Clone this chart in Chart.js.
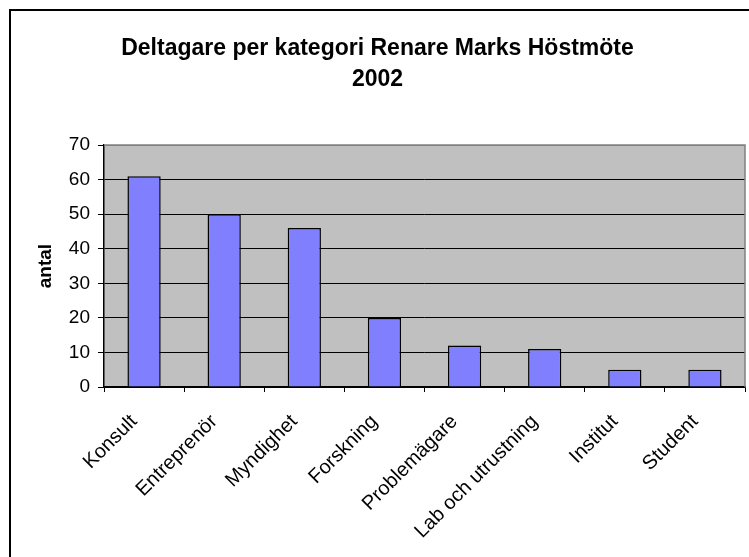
<!DOCTYPE html>
<html>
<head>
<meta charset="utf-8">
<script src="https://cdn.jsdelivr.net/npm/chart.js@4/dist/chart.umd.min.js"></script>
<style>
  html, body { margin: 0; padding: 0; background: #fff; }
  #wrap { width: 749px; height: 557px; position: relative; }
</style>
</head>
<body>
<div id="wrap"><canvas id="c" width="749" height="557"></canvas></div>
<script>
const titleLines = ['Deltagare per kategori Renare Marks Höstmöte', '2002'];
const yAxisTitle = 'antal';
const categories = ['Konsult', 'Entreprenör', 'Myndighet', 'Forskning', 'Problemägare', 'Lab och utrustning', 'Institut', 'Student'];
const values = [61, 50, 46, 20, 12, 11, 5, 5];
const yMin = 0;
const yMax = 70;
const yStep = 10;

const FONT = "'Liberation Sans', Arial, sans-serif";

const decor = {
  id: 'decor',
  beforeDraw(chart) {
    const { ctx, chartArea: a } = chart;
    ctx.save();
    ctx.fillStyle = '#ffffff';
    ctx.fillRect(0, 0, chart.width, chart.height);
    ctx.fillStyle = '#C0C0C0';
    ctx.fillRect(a.left, a.top, a.right - a.left, a.bottom - a.top);
    ctx.strokeStyle = '#000';
    ctx.lineWidth = 2;
    ctx.beginPath();
    ctx.moveTo(10, chart.height + 2);
    ctx.lineTo(10, 10);
    ctx.lineTo(chart.width + 2, 10);
    ctx.stroke();
    ctx.restore();
  },
  afterDraw(chart) {
    const { ctx, chartArea: a } = chart;
    ctx.save();
    ctx.strokeStyle = '#808080';
    ctx.lineWidth = 1.5;
    ctx.beginPath();
    ctx.moveTo(a.left, a.top);
    ctx.lineTo(a.right, a.top);
    ctx.lineTo(a.right, a.bottom);
    ctx.stroke();
    ctx.restore();
  }
};

new Chart(document.getElementById('c'), {
  type: 'bar',
  data: {
    labels: categories,
    datasets: [{
      data: values,
      backgroundColor: '#8080FF',
      borderColor: '#000000',
      borderWidth: 1.5,
      categoryPercentage: 1,
      barPercentage: 0.415
    }]
  },
  plugins: [decor],
  options: {
    responsive: false,
    animation: false,
    devicePixelRatio: 1,
    layout: { padding: { left: 10, right: 4, top: 0, bottom: 0 } },
    plugins: {
      legend: { display: false },
      tooltip: { enabled: false },
      title: {
        display: true,
        text: titleLines,
        color: '#000',
        font: { family: FONT, size: 23, weight: 'bold', lineHeight: 1.35 },
        padding: { top: 33, bottom: 50 }
      }
    },
    scales: {
      x: {
        offset: true,
        grid: {
          offset: true,
          drawOnChartArea: false,
          drawTicks: true,
          tickLength: 5,
          tickColor: '#000',
          color: '#000'
        },
        border: { display: true, color: '#000', width: 1.5 },
        ticks: {
          color: '#000',
          font: { family: FONT, size: 20 },
          maxRotation: 45,
          minRotation: 45,
          padding: 18,
          labelOffset: -10,
          autoSkip: false
        },
        afterFit(scale) { scale.height = 170; }
      },
      y: {
        min: yMin,
        max: yMax,
        ticks: {
          stepSize: yStep,
          color: '#000',
          font: { family: FONT, size: 19 },
          padding: 8
        },
        grid: {
          color: (c) => (c.tick && c.tick.value === yMax) ? '#808080' : '#000',
          lineWidth: 1,
          drawTicks: true,
          tickLength: 6,
          tickColor: '#000'
        },
        border: { display: true, color: '#000', width: 1.5 },
        title: {
          display: true,
          text: yAxisTitle,
          color: '#000',
          font: { family: FONT, size: 19, weight: 'bold' },
          padding: { top: 24, bottom: 0 }
        },
        afterFit(scale) { scale.width = 94; }
      }
    }
  }
});
</script>
</body>
</html>
